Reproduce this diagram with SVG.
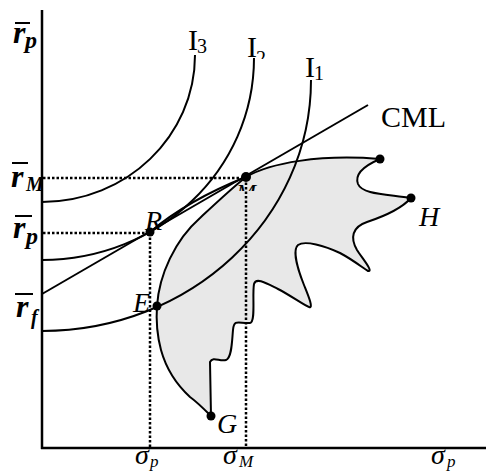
<svg xmlns="http://www.w3.org/2000/svg" width="486" height="473" viewBox="0 0 486 473">
<style>
.ax{stroke:#000;stroke-width:2.5;fill:none}
.cv{stroke:#000;stroke-width:2;fill:none}
.dot{stroke:#000;stroke-width:2.5;stroke-dasharray:2.5 2;fill:none}
.pt{fill:#000}
.lbl{font-family:"Liberation Serif","Times New Roman",serif;font-style:italic;fill:#000}
.rm{font-family:"Liberation Serif","Times New Roman",serif;fill:#000}
.rb{font-family:"Liberation Serif","Times New Roman",serif;font-style:italic;font-weight:bold;fill:#000}
.bar{stroke:#000;stroke-width:2}
</style>
<defs>
<clipPath id="clipM"><rect x="230" y="180" width="40" height="11"/></clipPath>
<clipPath id="clip2"><rect x="250" y="40" width="30" height="19"/></clipPath>
</defs>
<rect width="486" height="473" fill="#fff"/>
<g id="region">
<path d="M246,177 C270,163 320,154 380,159 C366,165 354,173 358,184 C362,194 385,194 411,198 C403,207 385,216 367,222 C352,227 350,238 357,250 C362,258 374,272 368,271 C364,269 355,261 340,253 C325,246 305,240 298,245 C292,250 298,270 304,285 C308,295 314,309 309,307 C305,306 290,295 278,289 C266,283 256,277 254,284 C252,295 256,322 250,323 C240,324 234,318 233,330 C232,340 232,358 226,360 C220,362 213,356 210,362 L211,416 C205,410 197,402 190,397 C177,385 166,368 161,350 C157,335 156,320 157,306 C159,275 175,240 200,218 C215,204 232,188 246,177 Z" fill="#e8e8e8" stroke="#000" stroke-width="2"/>
</g>
<g id="axes">
<line class="ax" x1="42" y1="10" x2="42" y2="449"/>
<line class="ax" x1="41" y1="448" x2="486" y2="448"/>
</g>
<g id="connectors">
<line class="dot" x1="43" y1="178" x2="246" y2="178"/>
<line class="dot" x1="43" y1="233" x2="150" y2="233"/>
<line class="dot" x1="150" y1="233" x2="150" y2="447"/>
<line class="dot" x1="246" y1="178" x2="246" y2="447"/>
<path id="I3" class="cv" d="M42,202 C126.5,202 195,136 195,55"/>
<path id="I2" class="cv" d="M42,260 C159,260 254,170 254,58"/>
<path id="I1" class="cv" d="M42,331 C190.6,331 311,218.6 311,80"/>
<line id="CML" class="cv" x1="42" y1="294" x2="368" y2="105"/>
<path class="cv" d="M150,232 Q188,200 246,177"/>
</g>
<g id="points">
<circle class="pt" cx="150" cy="232" r="4.5"/>
<circle class="pt" cx="246" cy="177" r="5"/>
<circle class="pt" cx="157" cy="306" r="4.5"/>
<circle class="pt" cx="211" cy="416" r="4.5"/>
<circle class="pt" cx="411" cy="198" r="4.5"/>
<circle class="pt" cx="380" cy="159" r="4.5"/>
</g>
<g id="labels">
<text class="rm" x="188" y="50" font-size="30">I</text><text class="rm" x="197" y="53" font-size="20">3</text>
<text class="rm" x="247" y="57" font-size="30">I</text><text class="rm" x="256" y="65" font-size="20" clip-path="url(#clip2)">2</text>
<text class="rm" x="305" y="77" font-size="30">I</text><text class="rm" x="314" y="80" font-size="20">1</text>
<text class="rm" x="381" y="127" font-size="30">CML</text>
<text class="lbl" x="145" y="230" font-size="28">R</text>
<text class="lbl" x="133" y="312" font-size="28">E</text>
<text class="lbl" x="217" y="433" font-size="28">G</text>
<text class="lbl" x="419" y="226" font-size="28">H</text>
<text class="lbl" x="236" y="200" font-size="24" clip-path="url(#clipM)">M</text>
<line class="bar" x1="15" y1="23" x2="30" y2="23"/>
<text class="rb" x="13" y="43" font-size="32">r</text><text class="rb" x="25" y="48" font-size="24">p</text>
<line class="bar" x1="12" y1="163" x2="28" y2="163"/>
<text class="rb" x="11" y="187" font-size="32">r</text><text class="rb" x="26" y="191" font-size="20">M</text>
<line class="bar" x1="15" y1="216" x2="32" y2="216"/>
<text class="rb" x="13" y="238" font-size="32">r</text><text class="rb" x="26" y="244" font-size="24">p</text>
<line class="bar" x1="15" y1="294" x2="33" y2="294"/>
<text class="rb" x="16" y="317" font-size="32">r</text><text class="rb" x="31" y="324" font-size="20">f</text>
<text class="lbl" x="135" y="464" font-size="28">σ</text><text class="lbl" x="150" y="467" font-size="17">p</text>
<text class="lbl" x="223" y="464" font-size="28">σ</text><text class="lbl" x="239" y="467" font-size="17">M</text>
<text class="lbl" x="431" y="464" font-size="28">σ</text><text class="lbl" x="447" y="467" font-size="17">p</text>
</g>
</svg>
